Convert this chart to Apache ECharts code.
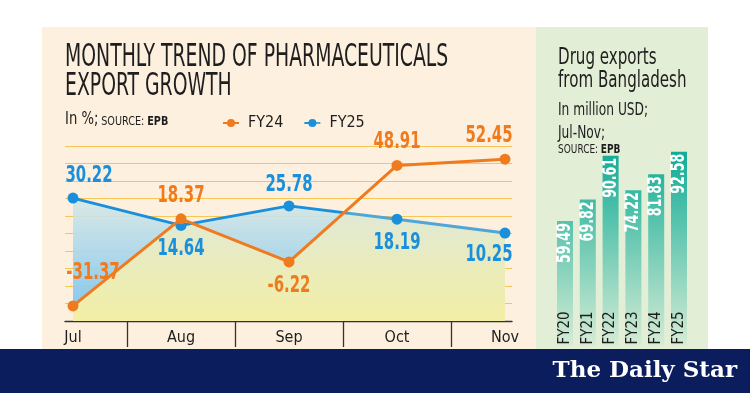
<!DOCTYPE html>
<html><head><meta charset="utf-8">
<script src="https://cdn.jsdelivr.net/npm/echarts@6/dist/echarts.min.js"></script>
<style>html,body{margin:0;padding:0;background:#fff}#c{width:750px;height:393px}</style>
</head><body><div id="c"></div>
<script>
// ---- data ----
const months = ['Jul', 'Aug', 'Sep', 'Oct', 'Nov'];
const fy24Growth = [-31.37, 18.37, -6.22, 48.91, 52.45];
const fy25Growth = [30.22, 14.64, 25.78, 18.19, 10.25];
const growthMin = -40, growthMax = 60, growthStep = 10;
const fiscalYears = ['FY20', 'FY21', 'FY22', 'FY23', 'FY24', 'FY25'];
const drugExports = [59.49, 69.82, 90.61, 74.22, 81.83, 92.58];

// ---- styles ----
const NARROW = "'Liberation Sans Narrow','DejaVu Sans Condensed',sans-serif";
const BLUE = '#1a8fdc', ORANGE = '#f07b1f', DARK = '#1e1e1e';
const BEIGE = '#fdf0df', GREEN = '#e3eed6', NAVY = '#0b1d5c', GRIDC = '#f8c453';
const fy24LabelOffset = [[20, -33], [0, -23], [0, 24], [0, -23], [-16, -23]];
const fy25LabelOffset = [[16, -22], [0, 24], [0, -21], [0, 24], [-16, 22]];

const chart = echarts.init(document.getElementById('c'), null, {renderer: 'canvas'});

function pointLabelSeries(name, vals, offs, color) {
  return {
    name: name, type: 'custom', xAxisIndex: 0, yAxisIndex: 0, z: 6, silent: true,
    data: vals.map((v, i) => [i, v]),
    renderItem: function (params, api) {
      const i = params.dataIndex;
      const pt = api.coord([api.value(0), api.value(1)]);
      return {type: 'text', x: pt[0] + offs[i][0], y: pt[1] + offs[i][1], scaleX: 0.72,
        style: {text: vals[i].toFixed(2), fill: color, fontFamily: NARROW, fontWeight: 'bold',
          fontSize: 23, align: 'center', verticalAlign: 'middle'}};
    }
  };
}

const option = {
  backgroundColor: '#ffffff',
  animation: false,
  grid: [
    {left: 73, right: 245, top: 146, bottom: 72},   // 0 lines
    {left: 127, right: 299, top: 146, bottom: 72},  // 1 separator ticks
    {left: 65, right: 238, top: 146, bottom: 72},   // 2 decor grid
    {left: 553.6, right: 59.6, top: 136.2, bottom: 47.4} // 3 bars
  ],
  xAxis: [
    {gridIndex: 0, type: 'category', data: months, boundaryGap: false,
      axisLine: {show: false}, axisTick: {show: false},
      axisLabel: {color: DARK, fontFamily: NARROW, fontSize: 16, margin: 9}},
    {gridIndex: 1, type: 'category', data: months.slice(1, 4), boundaryGap: true,
      axisLine: {show: false}, axisLabel: {show: false},
      axisTick: {show: true, length: 26, lineStyle: {color: '#333', width: 1.3}}},
    {gridIndex: 2, type: 'value', min: 0, max: 1,
      axisLine: {show: true, onZero: false, lineStyle: {color: '#333', width: 1.4}},
      axisTick: {show: false}, axisLabel: {show: false}, splitLine: {show: false}},
    {gridIndex: 3, type: 'category', data: fiscalYears, boundaryGap: true, z: 10,
      axisLine: {show: false}, axisTick: {show: false},
      axisLabel: {inside: true, rotate: 90, margin: 1, color: DARK, fontFamily: NARROW, fontSize: 15}}
  ],
  yAxis: [
    {gridIndex: 0, type: 'value', min: growthMin, max: growthMax, interval: growthStep, show: false},
    {gridIndex: 1, type: 'value', show: false},
    {gridIndex: 2, type: 'value', min: growthMin, max: growthMax, interval: growthStep,
      axisLine: {show: false}, axisTick: {show: false}, axisLabel: {show: false},
      splitLine: {show: true, lineStyle: {color: GRIDC, width: 1.2}}},
    {gridIndex: 3, type: 'value', min: 0, max: 100, show: false}
  ],
  legend: {
    data: ['FY24', 'FY25'], left: 217, top: 110, itemWidth: 16, itemHeight: 10, itemGap: 20,
    textStyle: {color: DARK, fontFamily: NARROW, fontSize: 16, padding: [0, 0, 0, 4]}
  },
  series: [
    { // blue area under FY25
      name: 'FY25 area', type: 'line', xAxisIndex: 0, yAxisIndex: 0, data: fy25Growth,
      showSymbol: false, symbol: 'none', silent: true, z: 1,
      lineStyle: {width: 0},
      areaStyle: {origin: 'start', opacity: 0.92,
        color: new echarts.graphic.LinearGradient(0, 0, 0, 1, [
          {offset: 0, color: '#d8e8e6'}, {offset: 1, color: '#72c1f0'}])}
    },
    { // yellow area under both lines
      name: 'lower area', type: 'custom', xAxisIndex: 0, yAxisIndex: 0, z: 2, silent: true,
      data: [[0, 0]],
      renderItem: function (params, api) {
        const n = months.length, pts = [];
        for (let i = 0; i < n; i++) {
          const a = api.coord([i, fy24Growth[i]]), b = api.coord([i, fy25Growth[i]]);
          pts.push([a[0], Math.max(a[1], b[1])]);
          if (i < n - 1) {
            const a2 = api.coord([i + 1, fy24Growth[i + 1]]), b2 = api.coord([i + 1, fy25Growth[i + 1]]);
            const d0 = a[1] - b[1], d1 = a2[1] - b2[1];
            if (d0 * d1 < 0) {
              const t = d0 / (d0 - d1);
              pts.push([a[0] + t * (a2[0] - a[0]), a[1] + t * (a2[1] - a[1])]);
            }
          }
        }
        pts.push(api.coord([n - 1, growthMin]), api.coord([0, growthMin]));
        return {type: 'polygon', shape: {points: pts},
          style: {opacity: 0.93, fill: new echarts.graphic.LinearGradient(0, 0, 0, 1, [
            {offset: 0, color: '#e2e9d3'}, {offset: 1, color: '#fcf29f'}])}};
      }
    },
    {
      name: 'FY25', type: 'line', xAxisIndex: 0, yAxisIndex: 0, z: 3, data: fy25Growth,
      color: BLUE, symbol: 'circle', symbolSize: 11,
      lineStyle: {width: 3, color: new echarts.graphic.LinearGradient(0, 0, 1, 0, [
        {offset: 0, color: BLUE}, {offset: 0.62, color: BLUE},
        {offset: 0.64, color: '#4fa7d8'}, {offset: 1, color: '#4fa7d8'}])},
      itemStyle: {color: BLUE}
    },
    {
      name: 'FY24', type: 'line', xAxisIndex: 0, yAxisIndex: 0, z: 4, data: fy24Growth,
      color: ORANGE, symbol: 'circle', symbolSize: 11,
      lineStyle: {width: 3, color: ORANGE}, itemStyle: {color: ORANGE}
    },
    pointLabelSeries('FY25 labels', fy25Growth, fy25LabelOffset, BLUE),
    pointLabelSeries('FY24 labels', fy24Growth, fy24LabelOffset, ORANGE),
    {
      name: 'Drug exports', type: 'bar', xAxisIndex: 3, yAxisIndex: 3, data: drugExports,
      barWidth: 16, z: 2,
      itemStyle: {color: {type: 'linear', x: 0, y: 150, x2: 0, y2: 346, global: true,
        colorStops: [{offset: 0, color: '#0fab96'}, {offset: 1, color: '#d6ecd5'}]}}
    },
    {
      name: 'Drug export labels', type: 'custom', xAxisIndex: 3, yAxisIndex: 3, z: 6, silent: true,
      data: drugExports.map((v, i) => [i, v]),
      renderItem: function (params, api) {
        const pt = api.coord([api.value(0), api.value(1)]);
        return {type: 'text', x: pt[0], y: pt[1] + 2, rotation: Math.PI / 2, scaleX: 0.74,
          style: {text: drugExports[params.dataIndex].toFixed(2), fill: '#ffffff', fontFamily: NARROW,
            fontWeight: 'bold', fontSize: 19, align: 'right', verticalAlign: 'middle'}};
      }
    }
  ],
  graphic: [
    {type: 'rect', z: -10, shape: {x: 42, y: 27, width: 494, height: 322}, style: {fill: BEIGE}},
    {type: 'rect', z: -10, shape: {x: 536, y: 27, width: 172, height: 322}, style: {fill: GREEN}},
    {type: 'text', x: 65, y: 44, scaleX: 0.91, scaleY: 1.36, z: 5,
      style: {text: 'MONTHLY TREND OF PHARMACEUTICALS\nEXPORT GROWTH', fill: DARK,
        fontFamily: NARROW, fontSize: 23, lineHeight: 21, verticalAlign: 'top', align: 'left'}},
    {type: 'text', x: 65, y: 111, scaleX: 0.86, z: 5,
      style: {text: '{a|In %;} {b|SOURCE:} {c|EPB}', fill: DARK, verticalAlign: 'top',
        rich: {a: {fontFamily: NARROW, fontSize: 17, verticalAlign: 'bottom', fill: DARK},
               b: {fontFamily: NARROW, fontSize: 12.5, verticalAlign: 'bottom', fill: DARK},
               c: {fontFamily: NARROW, fontSize: 12.5, fontWeight: 'bold', verticalAlign: 'bottom', fill: DARK}}}},
    {type: 'text', x: 558, y: 47, scaleX: 0.8, scaleY: 1.08, z: 5,
      style: {text: 'Drug exports\nfrom Bangladesh', fill: DARK, fontFamily: NARROW, fontSize: 21,
        lineHeight: 21, verticalAlign: 'top'}},
    {type: 'text', x: 558, y: 101, scaleX: 0.8, scaleY: 1.08, z: 5,
      style: {text: 'In million USD;', fill: DARK, fontFamily: NARROW, fontSize: 17, verticalAlign: 'top'}},
    {type: 'text', x: 558, y: 124, scaleX: 0.8, scaleY: 1.08, z: 5,
      style: {text: 'Jul-Nov;', fill: DARK, fontFamily: NARROW, fontSize: 17, verticalAlign: 'top'}},
    {type: 'text', x: 558, y: 143, scaleX: 0.8, z: 5,
      style: {text: '{b|SOURCE:} {c|EPB}', fill: DARK, verticalAlign: 'top',
        rich: {b: {fontFamily: NARROW, fontSize: 12.5, fill: DARK},
               c: {fontFamily: NARROW, fontSize: 12.5, fontWeight: 'bold', fill: DARK}}}},
    {type: 'rect', z: 100, shape: {x: 0, y: 349, width: 750, height: 44}, style: {fill: NAVY}},
    {type: 'text', x: 737, y: 371, z: 101,
      style: {text: 'The Daily Star', fill: '#ffffff', fontFamily: "'DejaVu Serif','Liberation Serif',serif",
        fontWeight: 'bold', fontSize: 23, align: 'right', verticalAlign: 'middle'}}
  ]
};
chart.setOption(option);
</script></body></html>
